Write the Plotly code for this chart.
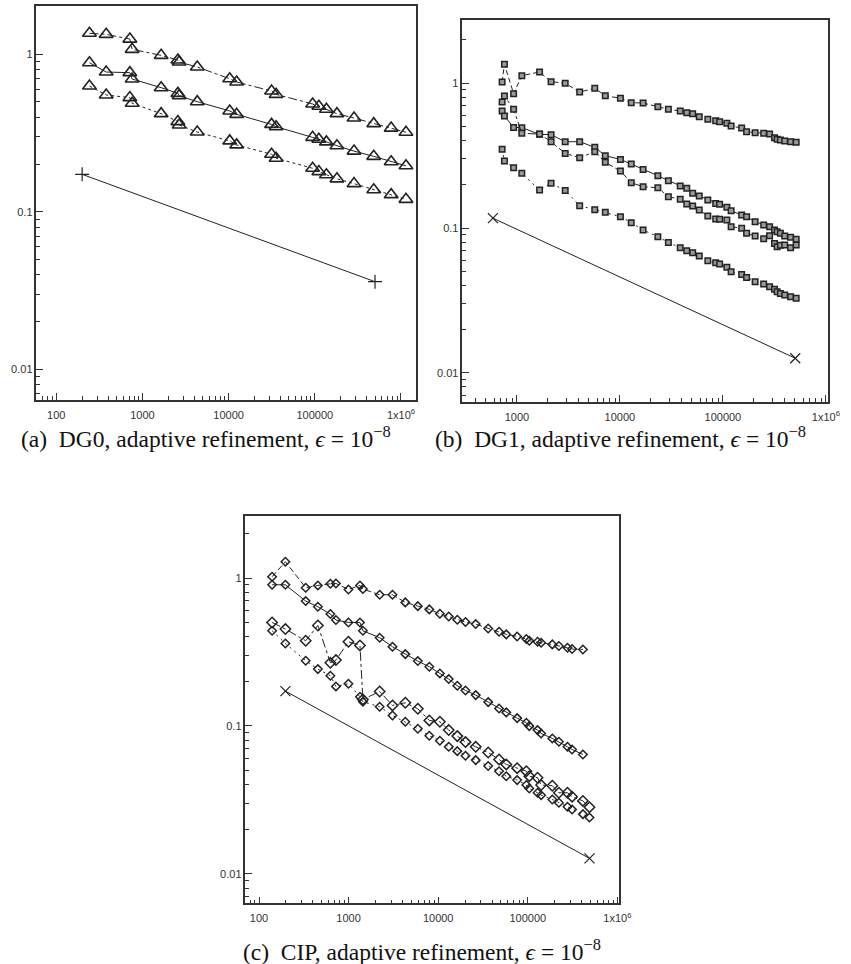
import plotly.graph_objects as go

W, H = 851, 964

# ---------------- data ----------------
# Panel (a) DG0
a_N = [243, 380, 715, 760, 1650, 2580, 2670, 4330, 10300, 12400, 31500, 35600,
       94400, 111500, 136400, 180700, 285300, 483000, 769600, 1143000]
a_top = [1.36, 1.34, 1.25, 1.076, 0.985, 0.92, 0.894, 0.831, 0.70, 0.667, 0.585, 0.557,
         0.484, 0.468, 0.448, 0.420, 0.394, 0.363, 0.340, 0.320]
a_mid = [0.885, 0.772, 0.765, 0.697, 0.614, 0.565, 0.546, 0.5005, 0.437, 0.416, 0.359, 0.347,
         0.297, 0.289, 0.278, 0.263, 0.243, 0.225, 0.208, 0.196]
a_bot = [0.629, 0.552, 0.531, 0.489, 0.420, 0.374, 0.356, 0.321, 0.282, 0.266, 0.232, 0.219,
         0.189, 0.180, 0.172, 0.162, 0.151, 0.138, 0.1285, 0.120]
a_ref_N = [200, 500000]
a_ref = [0.173, 0.036]

# Panel (b) DG1
b_N = [719, 757, 930, 1117, 1661, 2148, 2946, 4070, 5705, 7218, 10120, 12890, 16800,
       23370, 29570, 38520, 44590, 50900, 58980, 71400, 85120, 92970, 109300, 120200,
       152100, 169900, 205600, 248900, 284100, 317000, 336300, 361800, 398200, 454300, 514700]
b_A = [1.021, 1.353, 0.848, 1.13, 1.198, 1.027, 1.0, 0.871, 0.924, 0.822, 0.788, 0.735,
       0.731, 0.690, 0.661, 0.644, 0.627, 0.617, 0.588, 0.564, 0.552, 0.543, 0.529, 0.507,
       0.491, 0.463, 0.456, 0.451, 0.447, 0.421, 0.410, 0.406, 0.3995, 0.395, 0.391]
b_B = [0.644, 0.594, 0.496, 0.494, 0.444, 0.442, 0.395, 0.395, 0.361, 0.316, 0.298, 0.277,
       0.254, 0.230, 0.2125, 0.195, 0.188, 0.174, 0.1664, 0.156, 0.148, 0.1458, 0.139, 0.1318,
       0.123, 0.1198, 0.1106, 0.105, 0.102, 0.0969, 0.0944, 0.0919, 0.0881, 0.0862, 0.0835]
b_C = [0.743, 0.818, 0.661, 0.451, 0.4466, 0.395, 0.328, 0.306, 0.337, 0.2844, 0.2477, 0.2057,
       0.193, 0.190, 0.1647, 0.158, 0.1465, 0.142, 0.133, 0.121, 0.1154, 0.1148, 0.1136, 0.1022,
       0.0995, 0.0919, 0.0881, 0.0844, 0.0885, 0.0783, 0.0743, 0.0759, 0.0763, 0.0731, 0.0763]
b_D = [0.350, 0.2905, 0.261, 0.2387, 0.183, 0.2036, 0.182, 0.1427, 0.1339, 0.1283, 0.1198, 0.1088,
       0.0969, 0.0871, 0.0796, 0.0731, 0.0697, 0.0675, 0.064, 0.0594, 0.0576, 0.0564, 0.0535, 0.0499,
       0.0478, 0.0456, 0.0426, 0.041, 0.0393, 0.0377, 0.0363, 0.0353, 0.0344, 0.0335, 0.0327]
b_ref_N = [585, 504000]
b_ref = [0.117, 0.0126]

# Panel (c) CIP
c_N = [140, 197, 332, 454, 626, 722, 996, 1339, 1444, 2223, 3091, 4297, 5926, 7965, 10440,
       13120, 16340, 20180, 26240, 36160, 47800, 57550, 76100, 96440, 104000, 128600, 141000,
       188000, 222700, 277500, 312300, 412700, 488700]
c_E = [1.021, 1.29, 0.860, 0.892, 0.915, 0.920, 0.838, 0.892, 0.843, 0.771, 0.771, 0.685,
       0.646, 0.614, 0.574, 0.550, 0.523, 0.504, 0.4885, 0.4565, 0.433, 0.416, 0.403, 0.387,
       0.377, 0.371, 0.365, 0.356, 0.347, 0.338, 0.331, 0.329]
c_F = [0.901, 0.901, 0.699, 0.640, 0.571, 0.520, 0.501, 0.501, 0.440, 0.395, 0.343, 0.306,
       0.2745, 0.2512, 0.2265, 0.2074, 0.1868, 0.1738, 0.1616, 0.1449, 0.1313, 0.1234, 0.1129,
       0.105, 0.0997, 0.0937, 0.0889, 0.0823, 0.0781, 0.0722, 0.0693, 0.0641]
c_G = [0.501, 0.452, 0.377, 0.478, 0.2675, 0.2788, 0.371, 0.350, 0.151, 0.171, 0.1376, 0.1434,
       0.1306, 0.1089, 0.1067, 0.0937, 0.0853, 0.0777, 0.0722, 0.0661, 0.0593, 0.0549, 0.0518,
       0.0494, 0.0457, 0.0446, 0.0398, 0.0394, 0.0353, 0.0353, 0.0332, 0.0311, 0.0282]
c_H = [0.440, 0.3614, 0.2759, 0.2423, 0.2184, 0.185, 0.1928, 0.1574, 0.1457, 0.1347, 0.1177,
       0.1067, 0.0957, 0.0858, 0.0793, 0.0722, 0.0675, 0.0628, 0.0587, 0.0535, 0.0494, 0.0457,
       0.043, 0.0398, 0.0377, 0.0353, 0.034, 0.0318, 0.0302, 0.0284, 0.0272, 0.0253, 0.024]
c_ref_N = [197, 488700]
c_ref = [0.172, 0.0127]

# tick labels
x_tickvals = [100, 1000, 10000, 100000, 1000000]
x_ticktext = ["100", "1000", "10000", "100000", "1x10<sup>6</sup>"]
y_tickvals = [0.01, 0.1, 1]
y_ticktext = ["0.01", "0.1", "1"]

captions = [
    "(a)  DG0, adaptive refinement, <i>ϵ</i> = 10<sup>−8</sup>",
    "(b)  DG1, adaptive refinement, <i>ϵ</i> = 10<sup>−8</sup>",
    "(c)  CIP, adaptive refinement, <i>ϵ</i> = 10<sup>−8</sup>",
]

# ---------------- figure ----------------
INK = "#222222"
fig = go.Figure()


def add(x, y, ax, dash, symbol, size, lw=1.0, mlw=1.6, fill=INK):
    fig.add_trace(go.Scatter(
        x=x, y=y, xaxis="x" + ax, yaxis="y" + ax, mode="lines+markers",
        line=dict(color=INK, width=lw, dash=dash),
        marker=dict(symbol=symbol, size=size, color=fill,
                    line=dict(color=INK, width=mlw)),
        showlegend=False, hoverinfo="skip"))


# (a)
add(a_N, a_top, "", "dashdot", "triangle-up-open", 12)
add(a_N, a_mid, "", "solid", "triangle-up-open", 12)
add(a_N, a_bot, "", "dot", "triangle-up-open", 12)
add(a_ref_N, a_ref, "", "solid", "cross-thin-open", 10, mlw=1.2)

# (b)
SQ_FILL = "#9a9a9a"
add(b_N, b_A, "2", "5px,3px", "square", 5.5, mlw=1.5, fill=SQ_FILL)
add(b_N, b_B, "2", "solid", "square", 5.5, mlw=1.5, fill=SQ_FILL)
add(b_N, b_C, "2", "dashdot", "square", 5.5, mlw=1.5, fill=SQ_FILL)
add(b_N, b_D, "2", "2px,4px", "square", 5.5, mlw=1.5, fill=SQ_FILL)
add(b_ref_N, b_ref, "2", "solid", "x-thin-open", 10, mlw=1.2)

# (c)
add(c_N[:len(c_E)], c_E, "3", "6px,3px", "diamond-open", 6.5, mlw=1.5)
add(c_N[:len(c_F)], c_F, "3", "solid", "diamond-open", 6.5, mlw=1.5)
add(c_N[:len(c_G)], c_G, "3", "dashdot", "diamond-open", 8, mlw=1.5)
add(c_N[:len(c_H)], c_H, "3", "2px,4px", "diamond-open", 6.5, mlw=1.5)
add(c_ref_N, c_ref, "3", "solid", "x-thin-open", 10, mlw=1.2)

TICKFONT = dict(family="Liberation Sans, Arial, sans-serif", size=11, color="#333333")
MINOR = dict(ticks="inside", ticklen=4, tickwidth=1, tickcolor="#333", dtick="D1",
             showgrid=False)


def xa(l, r, rng, anchor):
    return dict(type="log", domain=[l / W, r / W], range=rng, anchor=anchor,
                tickmode="array", tickvals=x_tickvals, ticktext=x_ticktext,
                ticks="inside", ticklen=7, tickwidth=1.2, tickcolor="#333",
                ticklabelstandoff=4, minor=MINOR,
                showline=True, linecolor="#333", linewidth=1.5, mirror=True,
                showgrid=False, zeroline=False, tickfont=TICKFONT)


def ya(t, b, rng, anchor):
    return dict(type="log", domain=[1 - b / H, 1 - t / H], range=rng, anchor=anchor,
                tickmode="array", tickvals=y_tickvals, ticktext=y_ticktext,
                ticks="inside", ticklen=7, tickwidth=1.2, tickcolor="#333",
                minor=MINOR,
                showline=True, linecolor="#333", linewidth=1.5, mirror=True,
                showgrid=False, zeroline=False, tickfont=TICKFONT)


fig.update_layout(
    width=W, height=H, margin=dict(l=0, r=0, t=0, b=0),
    paper_bgcolor="white", plot_bgcolor="white",
    xaxis=xa(37, 422, [1.771, 6.175], "y"),
    yaxis=ya(6, 400, [-2.195, 0.307], "x"),
    xaxis2=xa(469, 840, [2.471, 6.022], "y2"),
    yaxis2=ya(20, 401.7, [-2.2, 0.4375], "x2"),
    xaxis3=xa(249, 628, [1.849, 6.02], "y3"),
    yaxis3=ya(516, 903.3, [-2.2, 0.42], "x3"),
)

CAPFONT = dict(family="Liberation Serif, DejaVu Serif, serif", size=23.5, color="#111")
for txt, cx, cy in zip(captions, [209, 629, 428], [437, 437, 950]):
    fig.add_annotation(text=txt, x=cx / W, y=1 - cy / H, xref="paper", yref="paper",
                       xanchor="center", yanchor="middle", showarrow=False, font=CAPFONT)

fig.write_html("out.html")
